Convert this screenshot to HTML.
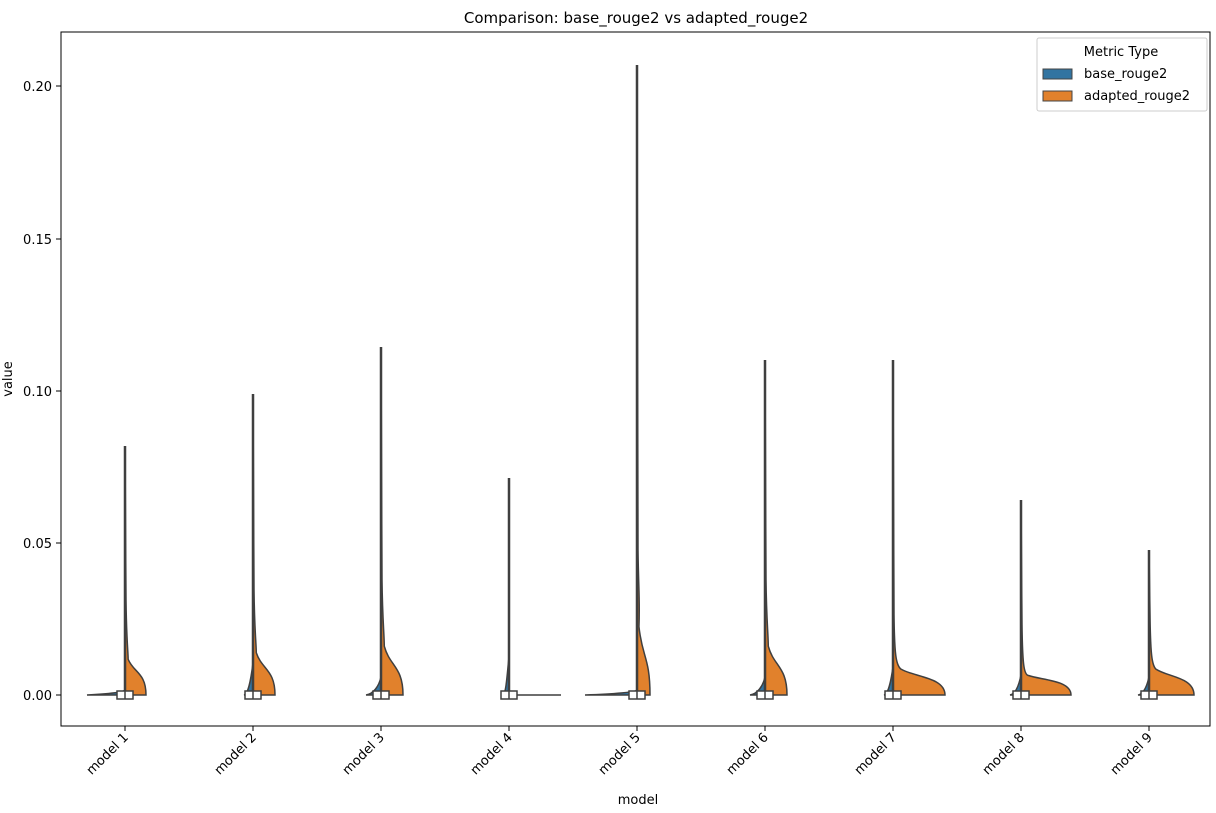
<!DOCTYPE html>
<html><head><meta charset="utf-8"><style>
body{margin:0;background:#fff;width:1216px;height:808px;overflow:hidden}
text{font-family:"DejaVu Sans","Liberation Sans",sans-serif;fill:#000}
</style></head><body>
<svg id="s" width="1216" height="808" xmlns="http://www.w3.org/2000/svg">
<rect x="61" y="32" width="1149" height="694" fill="none" stroke="#000" stroke-width="1"/>
<text x="636" y="23" font-size="15" text-anchor="middle">Comparison: base_rouge2 vs adapted_rouge2</text>
<text x="638" y="804" font-size="13" text-anchor="middle">model</text>
<text x="12" y="379" font-size="13" text-anchor="middle" transform="rotate(-90 12 379)">value</text>
<g id="g"></g>
<g>
<rect x="1037" y="38" width="170" height="73" fill="#fff" stroke="#ccc" rx="2"/>
<text x="1121" y="56" font-size="13" text-anchor="middle">Metric Type</text>
<rect x="1043" y="69" width="29" height="10" fill="#3274a1" stroke="#444"/>
<text x="1084" y="78" font-size="13">base_rouge2</text>
<rect x="1043" y="91" width="29" height="10" fill="#e1812c" stroke="#444"/>
<text x="1084" y="100" font-size="13">adapted_rouge2</text>
</g>
</svg>
<script>
var g=document.getElementById('g'),h='';
var yt=[[695,'0.00'],[543,'0.05'],[391,'0.10'],[239,'0.15'],[86,'0.20']];
yt.forEach(function(t){h+='<line x1="56" x2="61" y1="'+t[0]+'" y2="'+t[0]+'" stroke="#000"/><text x="52" y="'+(t[0]+5)+'" font-size="13" text-anchor="end">'+t[1]+'</text>';});
var d=[[125,446,21,640,38,5],[253,394,22,630,9,32],[381,347,22,620,15,18],[509,478,0,695,6,38],[637,65,13,590,52,5],[765,360,22,620,15,18],[893,360,52,655,9,28],[1021,500,50,665,11,20],[1149,550,45,655,11,18]];
d.forEach(function(m,i){
var c=m[0],t=m[1],w=m[2],s=m[3],bw=m[4],bh=m[5];
h+='<line x1="'+c+'" x2="'+c+'" y1="726" y2="731" stroke="#000"/>';
h+='<text font-size="13" text-anchor="end" transform="translate('+(c+4)+',738) rotate(-45)">model '+(i+1)+'</text>';
h+='<path d="M'+c+',695 L'+(c-bw)+',695 C'+(c-bw*0.5)+',694 '+(c-2)+','+(695-bh*0.5)+' '+c+','+(695-bh)+' Z" fill="#3274a1" stroke="#3f3f3f" stroke-width="1.5"/>';
if(w>0){
var pk=695-(695-s)*0.3;
h+='<path d="M'+c+',695 L'+(c+w)+',695 C'+(c+w)+','+(pk-6)+' '+(c+w*0.4)+','+(pk-6)+' '+(c+w*0.15)+','+(s+(695-s)*0.35)+' C'+(c+3)+','+(s+10)+' '+(c+1.5)+','+s+' '+(c+1)+','+(s-40)+' L'+c+','+t+' Z" fill="#e1812c" stroke="#3f3f3f" stroke-width="1.5"/>';
}else{
h+='<line x1="'+c+'" x2="'+(c+52)+'" y1="695" y2="695" stroke="#3f3f3f" stroke-width="1.5"/>';
}
h+='<line x1="'+c+'" x2="'+c+'" y1="'+t+'" y2="695" stroke="#3f3f3f" stroke-width="2.5"/>';
h+='<rect x="'+(c-8)+'" y="691" width="16" height="8" fill="#fff" stroke="#3f3f3f" stroke-width="1.5"/><line x1="'+c+'" x2="'+c+'" y1="691" y2="699" stroke="#3f3f3f" stroke-width="1.5"/>';
});
g.innerHTML=h;
</script>
</body></html>
